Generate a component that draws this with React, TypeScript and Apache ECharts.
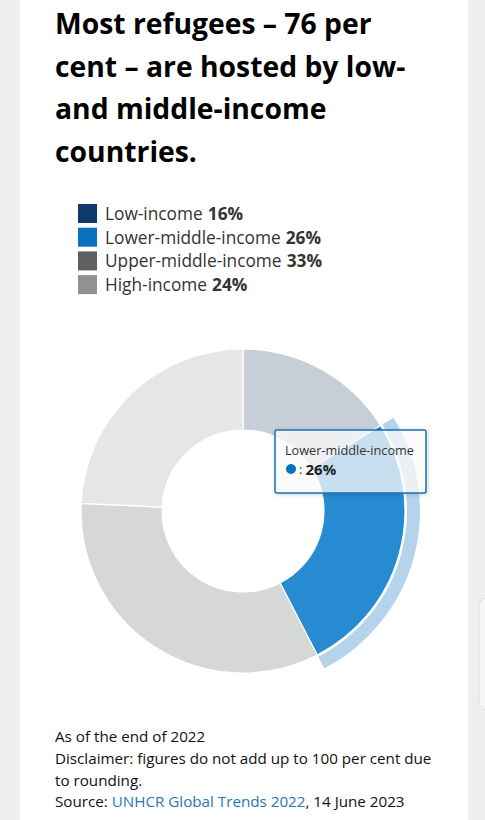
import React, { useEffect, useRef } from "react";
import * as echarts from "echarts";

const titleLines = [
  "Most refugees – 76 per",
  "cent – are hosted by low-",
  "and middle-income",
  "countries.",
];
const categories = ["Low-income", "Lower-middle-income", "Upper-middle-income", "High-income"];
const shares = [16, 26, 33, 24];
const legendColors = ["#0d3a6a", "#0a72bd", "#5d5f61", "#8f9193"];
const sliceColors = ["#c6ced8", "#268bd0", "#d6d7d7", "#e6e6e6"];
const highlightedIndex = 1;
const footerLines = [
  "As of the end of 2022",
  "Disclaimer: figures do not add up to 100 per cent due",
  "to rounding.",
];
const sourceLabel = "Source: ";
const sourceLink = "UNHCR Global Trends 2022";
const sourceDate = ", 14 June 2023";

export default function App() {
  const ref = useRef<HTMLDivElement>(null);
  useEffect(() => {
    document.body.style.margin = "0";
    const chart = echarts.init(ref.current!, null, { renderer: "svg" });
    const font = "'Open Sans', 'Noto Sans', sans-serif";
    const pieData = categories.map((name, i) => ({
      name,
      value: shares[i],
      itemStyle: { color: sliceColors[i] },
    }));
    const haloData = categories.map((name, i) => ({
      name,
      value: shares[i],
      itemStyle: { color: i === highlightedIndex ? "rgba(10,114,189,0.3)" : "rgba(0,0,0,0)" },
    }));
    const tipZ = 100;
    chart.setOption({
      animation: false,
      backgroundColor: "#f0efed",
      textStyle: { fontFamily: font },
      legend: {
        orient: "vertical",
        left: 78,
        top: 204,
        padding: 0,
        itemWidth: 19,
        itemHeight: 19,
        itemGap: 4.7,
        icon: "rect",
        selectedMode: false,
        data: categories.map((name, i) => ({ name, itemStyle: { color: legendColors[i] } })),
        formatter: (name: string) => {
          const i = categories.indexOf(name);
          return `{n|${name}} {b|${shares[i]}%}`;
        },
        textStyle: {
          rich: {
            n: { fontSize: 17.3, color: "#333", fontFamily: font, lineHeight: 19, padding: [0, 0, 0, 3] },
            b: { fontSize: 17.3, color: "#333", fontWeight: "bold", fontFamily: font, lineHeight: 19, padding: [0, 0, 0, 2] },
          },
        },
      },
      series: [
        {
          type: "pie",
          center: [243, 511],
          radius: [164, 177],
          startAngle: 90,
          clockwise: true,
          silent: true,
          label: { show: false },
          labelLine: { show: false },
          data: haloData,
        },
        {
          type: "pie",
          center: [243, 511],
          radius: [81, 162],
          startAngle: 90,
          clockwise: true,
          silent: true,
          label: { show: false },
          labelLine: { show: false },
          itemStyle: { borderColor: "#ffffff", borderWidth: 1.2 },
          data: pieData,
        },
      ],
      graphic: [
        { type: "rect", z: -10, shape: { x: 20, y: 0, width: 448, height: 820 }, style: { fill: "#ffffff" } },
        { type: "rect", z: -10, shape: { x: 479, y: 598, width: 20, height: 112, r: 8 }, style: { fill: "#f6f6f6", stroke: "#dcdcdc", lineWidth: 1 } },
        ...titleLines.map((t, i) => ({
          type: "text",
          x: 55,
          y: 23 + i * 42.7,
          style: {
            text: t,
            fontSize: 28.3,
            fontWeight: "bold",
            fontFamily: font,
            fill: "#000000",
            verticalAlign: "middle",
          },
        })),
        {
          type: "rect",
          z: tipZ,
          shape: { x: 275, y: 430, width: 151, height: 63, r: 2 },
          style: {
            fill: "rgba(255,255,255,0.72)",
            stroke: "#1a6fb3",
            lineWidth: 1.5,
            shadowBlur: 4,
            shadowOffsetX: 1,
            shadowOffsetY: 1,
            shadowColor: "rgba(0,0,0,0.2)",
          },
        },
        {
          type: "text",
          z: tipZ + 1,
          x: 285,
          y: 450,
          style: { text: categories[highlightedIndex], fontSize: 12.7, fill: "#333", fontFamily: font, verticalAlign: "middle" },
        },
        { type: "circle", z: tipZ + 1, shape: { cx: 291, cy: 469, r: 5 }, style: { fill: "#0a72bd" } },
        {
          type: "text",
          z: tipZ + 1,
          x: 299,
          y: 469,
          style: {
            text: `{c|:} {v|${shares[highlightedIndex]}%}`,
            fontFamily: font,
            verticalAlign: "middle",
            rich: {
              c: { fontSize: 13, fill: "#333", fontFamily: font },
              v: { fontSize: 15, fontWeight: "bold", fill: "#222", fontFamily: font },
            },
          },
        },
        ...footerLines.map((t, i) => ({
          type: "text",
          x: 55,
          y: 736 + i * 21.8,
          style: { text: t, fontSize: 15.2, fill: "#111", fontFamily: font, verticalAlign: "middle" },
        })),
        {
          type: "text",
          x: 55,
          y: 736 + 3 * 21.8,
          style: {
            text: `{a|${sourceLabel}}{l|${sourceLink}}{a|${sourceDate}}`,
            fontFamily: font,
            verticalAlign: "middle",
            rich: {
              a: { fontSize: 15.2, fill: "#111", fontFamily: font },
              l: { fontSize: 15.2, fill: "#2a78b0", fontFamily: font },
            },
          },
        },
      ],
    });
    return () => chart.dispose();
  }, []);
  return <div ref={ref} style={{ width: 485, height: 820 }} />;
}
